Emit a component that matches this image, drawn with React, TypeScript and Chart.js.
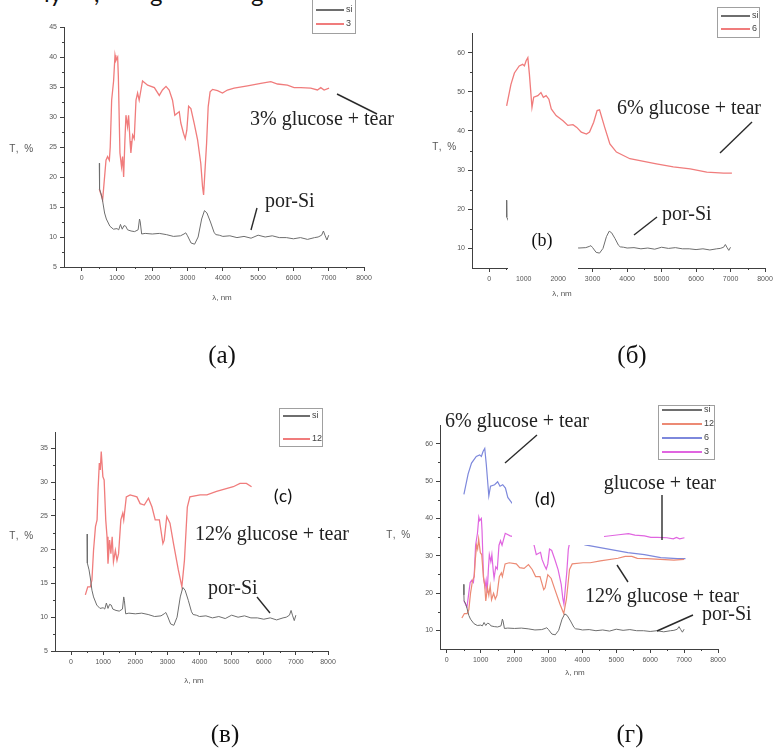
import React, { useEffect, useRef } from "react";
import { Chart, registerables } from "chart.js";

Chart.register(...registerables);

// ---------- data ----------
const siWl = [500, 505, 510, 560, 600, 650, 700, 800, 900, 1000, 1050, 1100, 1150, 1200, 1250, 1300, 1400, 1500, 1600, 1640, 1660, 1700, 1800, 2000, 2200, 2400, 2600, 2800, 2900, 2950, 3000, 3100, 3200, 3300, 3400, 3480, 3550, 3650, 3750, 3800, 3900, 4000, 4200, 4400, 4600, 4800, 5000, 5200, 5400, 5600, 5800, 6000, 6200, 6400, 6600, 6700, 6800, 6850, 6900, 6950, 7000];
const siT = [22.3, 19.5, 18, 17, 15.8, 14, 13, 11.8, 11.3, 11.4, 11.2, 12.1, 11.3, 11.9, 11.8, 11.2, 11, 10.9, 11.2, 13, 12.5, 10.5, 10.6, 10.5, 10.6, 10.4, 10.1, 10.2, 10.5, 10.7, 10.2, 9, 8.8, 10, 13, 14.4, 14, 12.5, 10.8, 10.4, 10.3, 10.1, 10.2, 9.9, 10.1, 9.8, 10.3, 10, 10.2, 9.9, 9.9, 9.7, 9.9, 9.6, 9.9, 10, 10.3, 11, 10.2, 9.5, 10.3];

const wl3 = [500, 595, 690, 735, 785, 810, 850, 905, 945, 970, 1020, 1040, 1085, 1130, 1160, 1190, 1225, 1255, 1300, 1330, 1370, 1395, 1445, 1490, 1540, 1585, 1630, 1680, 1725, 1870, 2060, 2200, 2290, 2390, 2480, 2575, 2640, 2700, 2765, 2810, 2885, 2935, 2980, 3030, 3095, 3190, 3285, 3375, 3425, 3455, 3490, 3540, 3585, 3640, 3710, 3850, 3990, 4130, 4320, 4700, 5075, 5360, 5550, 5830, 6020, 6210, 6490, 6680, 6775, 6870, 7010];
const t3 = [18, 16.2, 22.8, 23.4, 22.8, 25, 32.8, 36, 40.3, 39.4, 40, 36.7, 24, 21.7, 23.4, 20, 26, 30.3, 28.4, 30.3, 26, 24, 27, 26.4, 32.8, 34, 32.8, 34.5, 36, 35.3, 34.9, 33.6, 34.5, 35.1, 34.5, 32.8, 30.3, 30.6, 30.9, 29, 27.3, 26.4, 27.8, 31.8, 31.4, 28.9, 26.2, 22.3, 18.4, 17, 20.6, 25.6, 31.7, 34.2, 34.6, 34.4, 34, 34.5, 34.8, 35.2, 35.6, 35.9, 35.5, 35.3, 34.9, 34.9, 34.8, 34.5, 34.9, 34.5, 34.8];

const wl6 = [505, 630, 730, 870, 970, 1020, 1070, 1120, 1165, 1240, 1290, 1410, 1500, 1570, 1650, 1730, 1800, 1940, 2140, 2280, 2430, 2540, 2670, 2820, 2910, 3030, 3130, 3200, 3350, 3500, 3690, 4080, 4850, 5340, 5830, 6310, 6800, 7040];
const t6 = [46.4, 51.9, 54.8, 56.6, 57, 56.6, 57.9, 58.7, 54.5, 46, 48.6, 49, 49.8, 48.6, 49, 48.1, 45.6, 43.9, 42.6, 41.4, 41.6, 40.9, 39.7, 39.2, 39.7, 42.2, 45.2, 45.4, 40.9, 36.7, 34.6, 32.9, 31.6, 30.8, 30.3, 29.5, 29.2, 29.2];

const wl12 = [445, 520, 600, 650, 700, 760, 810, 840, 880, 910, 940, 990, 1030, 1080, 1120, 1150, 1200, 1240, 1280, 1320, 1380, 1430, 1480, 1550, 1610, 1640, 1720, 1840, 2050, 2150, 2280, 2410, 2520, 2620, 2750, 2860, 2900, 2980, 3080, 3190, 3340, 3450, 3530, 3620, 3700, 4020, 4230, 4530, 5050, 5260, 5460, 5620];
const t12 = [13.3, 14.5, 14.5, 15.5, 19.9, 23.4, 24.4, 28.8, 32.8, 31.8, 34.5, 30.8, 30.3, 24.4, 21.9, 17.9, 21.4, 19.4, 21.9, 18.2, 19.9, 18.4, 19.4, 24.4, 25.4, 24.4, 27.8, 28.1, 27.8, 26.8, 26.6, 27.6, 26.3, 24.4, 24.4, 20.9, 21.4, 24.9, 23.9, 20.9, 17, 14.5, 18.4, 26.3, 27.8, 28.1, 28.1, 28.6, 29.3, 29.8, 29.8, 29.3];
// continuation of the 12% curve visible only in panel (г)
const wl12Tail = [5900, 6300, 6700, 7000];
const t12Tail = [29.2, 29, 28.8, 29];

const xTickValues = [0, 1000, 2000, 3000, 4000, 5000, 6000, 7000, 8000];
const yTicksA = [5, 10, 15, 20, 25, 30, 35, 40, 45];
const yTicksB = [10, 20, 30, 40, 50, 60];
const yTicksC = [5, 10, 15, 20, 25, 30, 35];
const yTicksD = [10, 20, 30, 40, 50, 60];

// ---------- styles ----------
const GRAY = "#6e6e6e";
const RED = "#f07c7c";
const SALMON = "#ec8a74";
const BLUE = "#7d88dc";
const MAGENTA = "#e065e0";
const AXIS = "#404040";
const SERIF = "'Liberation Serif', 'Times New Roman', serif";
const SANS = "'Liberation Sans', Arial, sans-serif";
const CAL = "Carlito, 'Open Sans', 'Liberation Sans', sans-serif";

const zip = (xs: number[], ys: number[]) =>
  xs.slice(0, Math.min(xs.length, ys.length)).map((x, i) => ({ x, y: ys[i] }));

const minorTicks = {
  id: "minorTicks",
  afterDraw(chart: any) {
    const { ctx, chartArea, scales } = chart;
    ctx.save();
    ctx.strokeStyle = AXIS;
    ctx.lineWidth = 1;
    const xs = scales.x.ticks.map((t: any) => t.value);
    for (let i = 0; i < xs.length - 1; i++) {
      const px = Math.round(scales.x.getPixelForValue((xs[i] + xs[i + 1]) / 2)) + 0.5;
      ctx.beginPath();
      ctx.moveTo(px, chartArea.bottom);
      ctx.lineTo(px, chartArea.bottom + 2);
      ctx.stroke();
    }
    const ys = scales.y.ticks.map((t: any) => t.value);
    for (let i = 0; i < ys.length - 1; i++) {
      const py = Math.round(scales.y.getPixelForValue((ys[i] + ys[i + 1]) / 2)) + 0.5;
      ctx.beginPath();
      ctx.moveTo(chartArea.left, py);
      ctx.lineTo(chartArea.left - 2, py);
      ctx.stroke();
    }
    ctx.restore();
  },
};

type Series = { data: { x: number; y: number }[]; color: string; width: number };
type PanelProps = {
  box: number[];
  area: number[];
  xr: number[];
  yr: number[];
  yTicks: number[];
  series: Series[];
};

function Panel({ box, area, xr, yr, yTicks, series }: PanelProps) {
  const ref = useRef<HTMLCanvasElement>(null);
  const [L, T, W, H] = box;
  const [l, t, r, b] = area;
  useEffect(() => {
    const tickFont = { family: "'Liberation Sans', Arial, sans-serif", size: 7 };
    const chart = new Chart(ref.current as HTMLCanvasElement, {
      type: "line",
      data: {
        datasets: series.map((s) => ({
          data: s.data,
          borderColor: s.color,
          borderWidth: s.width,
          pointRadius: 0,
          fill: false,
          tension: 0,
        })),
      },
      options: {
        animation: false,
        responsive: false,
        events: [],
        layout: { padding: { top: t - T, right: L + W - r, left: 0, bottom: 0 } },
        plugins: { legend: { display: false }, tooltip: { enabled: false } },
        scales: {
          x: {
            type: "linear",
            min: xr[0],
            max: xr[1],
            afterBuildTicks: (s: any) => {
              s.ticks = xTickValues.map((v) => ({ value: v }));
            },
            afterFit: (s: any) => {
              s.height = T + H - b;
            },
            ticks: {
              callback: (v: any) => String(v),
              font: tickFont,
              color: "#555",
              maxRotation: 0,
              autoSkip: false,
              padding: 3,
            },
            grid: { display: true, drawOnChartArea: false, drawTicks: true, tickLength: 4, color: AXIS },
            border: { display: true, color: AXIS, width: 1 },
          },
          y: {
            type: "linear",
            min: yr[0],
            max: yr[1],
            afterBuildTicks: (s: any) => {
              s.ticks = yTicks.map((v) => ({ value: v }));
            },
            afterFit: (s: any) => {
              s.width = l - L;
            },
            ticks: {
              callback: (v: any) => String(v),
              font: tickFont,
              color: "#555",
              autoSkip: false,
              padding: 3,
            },
            grid: { display: true, drawOnChartArea: false, drawTicks: true, tickLength: 4, color: AXIS },
            border: { display: true, color: AXIS, width: 1 },
          },
        },
      } as any,
      plugins: [minorTicks],
    });
    return () => chart.destroy();
  }, []);
  return (
    <canvas
      ref={ref}
      width={W}
      height={H}
      style={{ position: "absolute", left: L, top: T, width: W, height: H }}
    />
  );
}

function Text({ x, y, s, size, family, color = "#222", center = false, spacing = 0 }: any) {
  return (
    <div
      style={{
        position: "absolute",
        left: x,
        top: y,
        transform: center ? "translate(-50%, -50%)" : "translate(0, -50%)",
        fontSize: size,
        fontFamily: family,
        color,
        lineHeight: size + "px",
        whiteSpace: "nowrap",
        letterSpacing: spacing,
      }}
    >
      {s}
    </div>
  );
}

function Legend({ box, items, lineW }: any) {
  const [x, y, w, h] = box;
  return (
    <div
      style={{
        position: "absolute",
        left: x,
        top: y,
        width: w,
        height: h,
        border: "1px solid #a0a0a0",
        background: "#fff",
        boxSizing: "border-box",
      }}
    >
      {items.map((it: any, i: number) => (
        <div key={i} style={{ position: "absolute", left: 0, top: it.y - y - 1, width: w }}>
          <div
            style={{
              position: "absolute",
              left: 3,
              top: 0,
              width: lineW,
              height: 1.5,
              background: it.color,
            }}
          />
          <div
            style={{
              position: "absolute",
              left: lineW + 5,
              top: -5,
              fontFamily: SANS,
              fontSize: 9,
              lineHeight: "10px",
              color: "#444",
            }}
          >
            {it.label}
          </div>
        </div>
      ))}
    </div>
  );
}

const leaders = [
  [337, 94, 377, 114],
  [251, 230, 257, 208],
  [720, 153, 752, 122],
  [634, 235, 657, 217],
  [257, 597, 270, 613],
  [505, 463, 537, 435],
  [662, 495, 662, 540],
  [628, 582, 617, 565],
  [693, 615, 657, 631],
];

export default function App() {
  const siData = zip(siWl, siT);
  const d3 = zip(wl3, t3);
  const d6 = zip(wl6, t6);
  const d12 = zip(wl12, t12);
  const d12full = d12.concat(zip(wl12Tail, t12Tail));
  return (
    <div
      style={{
        position: "absolute",
        left: 0,
        top: 0,
        width: 782,
        height: 750,
        background: "#fff",
        overflow: "hidden",
      }}
    >
      {/* clipped line of running text above the figure */}
      <div style={{ position: "absolute", left: 0, top: 0, width: 400, height: 9, overflow: "hidden" }}>
        {[
          [44, "ly"],
          [94, ","],
          [150, "g"],
          [251, "g"],
        ].map(([x, s]: any, i) => (
          <div
            key={i}
            style={{
              position: "absolute",
              left: x,
              top: -19,
              fontFamily: "Lato, 'Open Sans', sans-serif",
              fontSize: 24,
              lineHeight: "24px",
              color: "#111",
            }}
          >
            {s}
          </div>
        ))}
      </div>

      <Panel
        box={[0, 0, 390, 312]}
        area={[64, 27, 364, 267]}
        xr={[-500, 8000]}
        yr={[5, 45]}
        yTicks={yTicksA}
        series={[
          { data: siData, color: GRAY, width: 1 },
          { data: d3, color: RED, width: 1.3 },
        ]}
      />
      <Panel
        box={[390, 0, 392, 312]}
        area={[472, 33, 765, 268]}
        xr={[-500, 8000]}
        yr={[5, 65]}
        yTicks={yTicksB}
        series={[
          { data: siData, color: GRAY, width: 1 },
          { data: d6, color: RED, width: 1.3 },
        ]}
      />
      <Panel
        box={[0, 380, 390, 320]}
        area={[55, 432, 328, 651]}
        xr={[-500, 8000]}
        yr={[5, 37.4]}
        yTicks={yTicksC}
        series={[
          { data: siData, color: GRAY, width: 1 },
          { data: d12, color: RED, width: 1.3 },
        ]}
      />
      <Panel
        box={[390, 380, 392, 320]}
        area={[440, 425, 718, 649]}
        xr={[-200, 8000]}
        yr={[5, 65]}
        yTicks={yTicksD}
        series={[
          { data: siData, color: GRAY, width: 1 },
          { data: d12full, color: SALMON, width: 1.2 },
          { data: d6, color: BLUE, width: 1.2 },
          { data: d3, color: MAGENTA, width: 1.2 },
        ]}
      />

      {/* axis titles */}
      <Text x={22} y={149} s="T, %" size={10} family={SANS} color="#555" center spacing={1.5} />
      <Text x={445} y={147} s="T, %" size={10} family={SANS} color="#555" center spacing={1.5} />
      <Text x={22} y={536} s="T, %" size={10} family={SANS} color="#555" center spacing={1.5} />
      <Text x={399} y={535} s="T, %" size={10} family={SANS} color="#555" center spacing={1.5} />
      <Text x={222} y={298} s="λ, nm" size={8} family={SANS} color="#555" center />
      <Text x={562} y={294} s="λ, nm" size={8} family={SANS} color="#555" center />
      <Text x={194} y={681} s="λ, nm" size={8} family={SANS} color="#555" center />
      <Text x={575} y={673} s="λ, nm" size={8} family={SANS} color="#555" center />

      {/* leader lines */}
      <svg
        width={782}
        height={750}
        style={{ position: "absolute", left: 0, top: 0, pointerEvents: "none" }}
      >
        {leaders.map(([x1, y1, x2, y2], i) => (
          <line key={i} x1={x1} y1={y1} x2={x2} y2={y2} stroke="#2a2a2a" strokeWidth={1.4} />
        ))}
      </svg>

      {/* annotations */}
      <Text x={250} y={118} s="3% glucose + tear" size={20} family={SERIF} />
      <Text x={265} y={200} s="por-Si" size={20} family={SERIF} />
      <Text x={617} y={107} s="6% glucose + tear" size={20} family={SERIF} />
      <Text x={662} y={213} s="por-Si" size={20} family={SERIF} />
      <Text x={195} y={533} s="12% glucose + tear" size={20} family={SERIF} />
      <Text x={208} y={587} s="por-Si" size={20} family={SERIF} />
      <Text x={445} y={420} s="6% glucose + tear" size={20} family={SERIF} />
      <Text x={572} y={482} s="3% glucose + tear" size={20} family={SERIF} />
      <Text x={585} y={595} s="12% glucose + tear" size={20} family={SERIF} />
      <Text x={702} y={613} s="por-Si" size={20} family={SERIF} />

      {/* white patches with panel letters */}
      <div style={{ position: "absolute", left: 508, top: 197, width: 70, height: 75, background: "#fff" }} />
      <Text x={542} y={240} s="(b)" size={18} family={SERIF} color="#111" center />
      <Text x={283} y={495} s="(c)" size={19} family={CAL} color="#111" center />
      <div style={{ position: "absolute", left: 512, top: 468, width: 92, height: 77, background: "#fff" }} />
      <Text x={545} y={498} s="(d)" size={19} family={CAL} color="#111" center />

      {/* legends */}
      <Legend
        box={[312, -8, 44, 42]}
        lineW={28}
        items={[
          { y: 9, label: "si", color: GRAY },
          { y: 23, label: "3", color: RED },
        ]}
      />
      <Legend
        box={[717, 7, 43, 31]}
        lineW={29}
        items={[
          { y: 15, label: "si", color: GRAY },
          { y: 28, label: "6", color: RED },
        ]}
      />
      <Legend
        box={[279, 408, 44, 39]}
        lineW={27}
        items={[
          { y: 415, label: "si", color: GRAY },
          { y: 438, label: "12", color: RED },
        ]}
      />
      <Legend
        box={[658, 405, 57, 55]}
        lineW={40}
        items={[
          { y: 409, label: "si", color: GRAY },
          { y: 423, label: "12", color: SALMON },
          { y: 437, label: "6", color: BLUE },
          { y: 451, label: "3", color: MAGENTA },
        ]}
      />

      {/* captions */}
      <Text x={222} y={354} s="(а)" size={25} family={SERIF} color="#111" center />
      <Text x={632} y={354} s="(б)" size={25} family={SERIF} color="#111" center />
      <Text x={225} y={733} s="(в)" size={25} family={SERIF} color="#111" center />
      <Text x={630} y={733} s="(г)" size={25} family={SERIF} color="#111" center />
    </div>
  );
}
